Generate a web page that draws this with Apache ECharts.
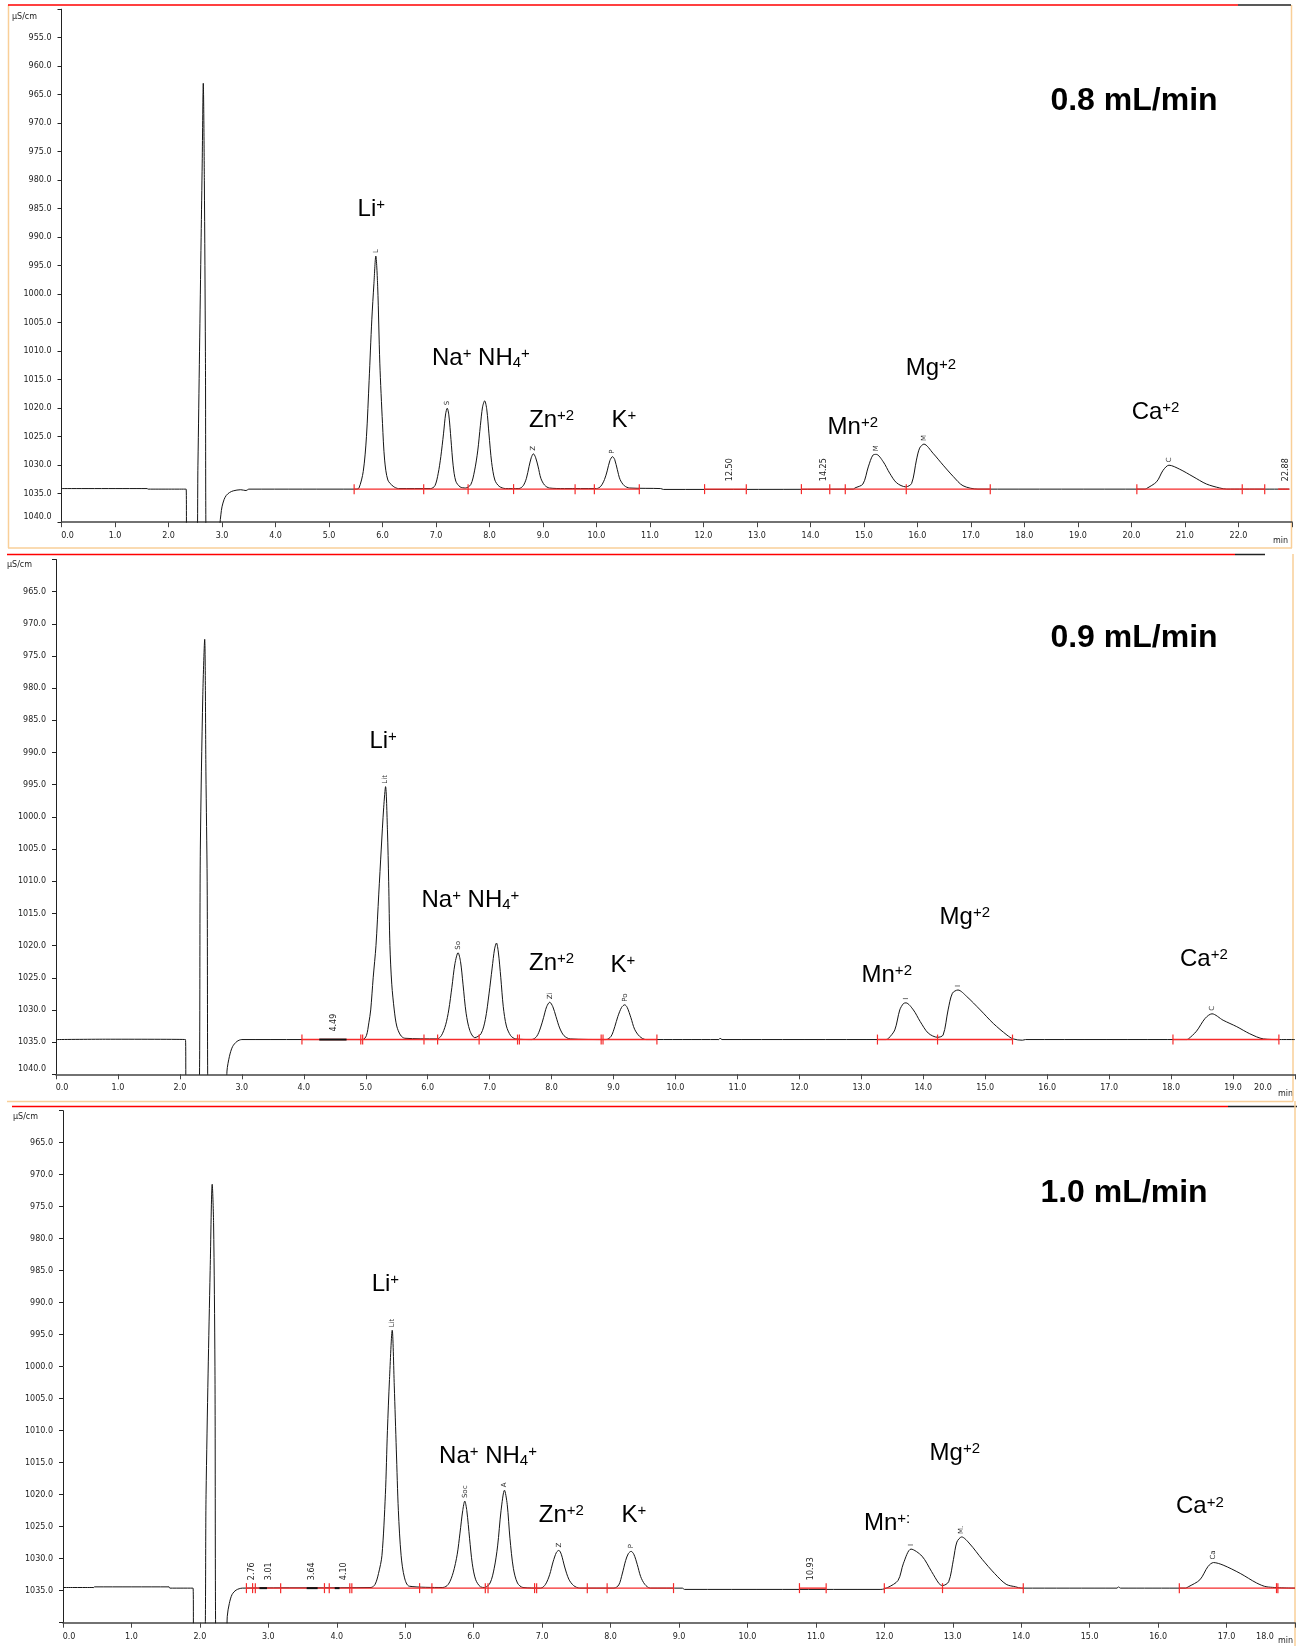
<!DOCTYPE html>
<html>
<head>
<meta charset="utf-8">
<title>Cation chromatograms at three flow rates</title>
<script src="https://cdn.jsdelivr.net/npm/echarts@6/dist/echarts.min.js"></script>
<style>
  html, body { margin: 0; padding: 0; background: #fff; }
  #chart { width: 1297px; height: 1646px; }
</style>
</head>
<body>
<div id="chart"></div>
<script>
// Conductivity traces: [retention time (min), signal (µS/cm)]
const trace08 = [
  [0.00,1034.1],[1.60,1034.1],[1.62,1034.2],[2.33,1034.2],[2.34,1046],[2.52,1046],[2.55,1030],[2.58,1010],
  [2.61,990],[2.63,977],[2.65,963],[2.67,980],[2.69,1010],[2.71,1046],[2.95,1046],[2.96,1040.5],[2.98,1038.6],
  [3.00,1037.3],[3.04,1036.0],[3.08,1035.3],[3.14,1034.8],[3.21,1034.5],[3.35,1034.3],[3.45,1034.45],[3.50,1034.2],
  [5.50,1034.2],[5.56,1034.0],[5.64,1031.1],[5.70,1025.0],[5.75,1015.1],[5.80,1004.5],[5.84,998.1],[5.875,993.3],
  [5.91,998.7],[5.95,1012.1],[6.00,1022.7],[6.04,1029.1],[6.10,1032.6],[6.20,1033.7],[6.30,1034.1],[6.90,1034.1],
  [6.98,1033.6],[7.04,1031.5],[7.09,1028.5],[7.14,1024.5],[7.18,1021.0],[7.21,1020.0],[7.24,1021.2],[7.28,1025.5],
  [7.32,1030.0],[7.37,1032.8],[7.45,1033.8],[7.55,1034.0],[7.65,1033.4],[7.72,1031.0],[7.78,1027.5],[7.83,1023.0],
  [7.87,1019.8],[7.91,1018.7],[7.95,1020.3],[7.99,1024.5],[8.04,1029.5],[8.10,1032.6],[8.18,1033.7],[8.30,1034.1],
  [8.55,1034.1],[8.63,1033.6],[8.69,1032.3],[8.74,1030.2],[8.78,1028.7],[8.82,1028.0],[8.86,1028.6],[8.91,1030.3],
  [8.96,1032.3],[9.03,1033.5],[9.12,1034.0],[9.40,1034.1],[10.00,1034.1],[10.08,1033.7],[10.15,1032.5],[10.20,1031.0],
  [10.25,1029.2],[10.30,1028.5],[10.34,1029.0],[10.39,1030.8],[10.44,1032.5],[10.52,1033.6],[10.62,1034.0],
  [11.20,1034.1],[11.25,1034.25],[14.80,1034.2],[14.83,1034.0],[14.98,1033.3],[15.08,1030.3],[15.17,1028.2],
  [15.23,1028.1],[15.36,1029.4],[15.48,1031.4],[15.61,1033.1],[15.78,1033.8],[15.89,1033.2],[15.98,1029.1],
  [16.04,1027.0],[16.12,1026.3],[16.29,1027.9],[16.48,1030.0],[16.67,1032.0],[16.85,1033.6],[17.13,1034.2],
  [20.25,1034.2],[20.28,1034.1],[20.47,1032.9],[20.59,1030.9],[20.70,1030.0],[20.90,1030.7],[21.15,1032.0],
  [21.40,1033.3],[21.65,1034.0],[21.78,1034.2],[22.95,1034.2]
];
const trace09 = [
  [0.00,1034.6],[0.80,1034.55],[2.09,1034.6],[2.10,1046],[2.30,1046],[2.33,1005],[2.37,981],[2.40,972.4],
  [2.42,993],[2.44,1010],[2.46,1046],[2.74,1046],[2.76,1039.5],[2.80,1037.2],[2.85,1035.7],[2.92,1034.9],
  [3.00,1034.6],[4.95,1034.6],[5.01,1034.0],[5.05,1032.0],[5.08,1030.0],[5.12,1025.0],[5.165,1020.0],[5.21,1012.0],
  [5.25,1005.0],[5.29,998.5],[5.32,995.3],[5.35,1002.0],[5.37,1010.0],[5.39,1020.0],[5.42,1026.0],[5.46,1030.0],
  [5.50,1032.5],[5.56,1033.9],[5.63,1034.4],[6.15,1034.5],[6.22,1034.0],[6.29,1032.3],[6.34,1030.0],[6.39,1026.5],
  [6.44,1022.8],[6.49,1021.1],[6.53,1022.5],[6.57,1026.0],[6.62,1030.5],[6.68,1033.2],[6.76,1034.3],[6.86,1033.7],
  [6.93,1031.5],[6.99,1027.5],[7.04,1023.5],[7.08,1020.5],[7.11,1019.6],[7.14,1021.0],[7.18,1025.0],[7.22,1029.5],
  [7.27,1032.5],[7.34,1034.0],[7.42,1034.5],[7.68,1034.6],[7.76,1034.1],[7.82,1032.8],[7.87,1031.2],[7.92,1029.5],
  [7.97,1028.8],[8.02,1029.5],[8.07,1031.0],[8.13,1032.8],[8.20,1034.0],[8.30,1034.5],[8.88,1034.6],[8.96,1034.1],
  [9.02,1032.6],[9.07,1031.0],[9.13,1029.6],[9.18,1029.2],[9.22,1029.6],[9.28,1031.2],[9.34,1033.0],[9.42,1034.1],
  [9.52,1034.6],[10.70,1034.6],[10.72,1034.4],[10.75,1034.6],[13.40,1034.6],[13.44,1034.4],[13.54,1033.1],
  [13.62,1030.0],[13.68,1029.0],[13.72,1028.9],[13.84,1030.0],[13.95,1031.8],[14.08,1033.6],[14.23,1034.25],
  [14.32,1033.9],[14.40,1030.0],[14.47,1027.4],[14.56,1026.9],[14.70,1027.9],[14.92,1030.0],[15.13,1032.1],
  [15.35,1033.9],[15.45,1034.5],[15.60,1034.7],[15.65,1034.6],[18.25,1034.6],[18.28,1034.5],[18.41,1033.3],
  [18.55,1031.3],[18.66,1030.6],[18.84,1031.6],[19.06,1032.6],[19.27,1033.7],[19.49,1034.5],[19.75,1034.6],
  [20.00,1034.6]
];
const trace10 = [
  [0.00,1034.5],[0.45,1034.5],[0.46,1034.4],[1.55,1034.4],[1.56,1034.6],[1.90,1034.6],[1.91,1046],[2.06,1046],
  [2.09,1020],[2.12,1001],[2.15,985],[2.18,971.5],[2.20,977.5],[2.22,1000],[2.24,1046],[2.38,1046],[2.40,1039],
  [2.43,1037],[2.47,1035.6],[2.53,1034.9],[2.62,1034.6],[4.50,1034.5],[4.56,1034.0],[4.61,1032.3],[4.66,1029.5],
  [4.71,1020.0],[4.74,1010.0],[4.77,1002.0],[4.81,994.3],[4.84,1003.0],[4.87,1013.0],[4.90,1022.5],[4.94,1029.5],
  [4.99,1033.0],[5.06,1034.3],[5.55,1034.5],[5.63,1034.0],[5.70,1032.2],[5.76,1029.3],[5.80,1026.0],[5.84,1022.5],
  [5.87,1021.0],[5.90,1022.5],[5.94,1026.8],[5.98,1030.8],[6.03,1033.3],[6.10,1034.4],[6.16,1034.5],[6.24,1033.8],
  [6.30,1031.5],[6.35,1028.0],[6.40,1022.5],[6.45,1019.3],[6.49,1021.5],[6.53,1026.8],[6.58,1031.5],[6.64,1033.8],
  [6.72,1034.5],[6.98,1034.6],[7.05,1034.0],[7.11,1032.5],[7.16,1030.5],[7.21,1029.0],[7.245,1028.7],[7.28,1029.3],
  [7.33,1031.3],[7.39,1033.2],[7.46,1034.2],[7.55,1034.6],[8.05,1034.6],[8.12,1034.1],[8.17,1032.4],[8.22,1030.3],
  [8.26,1029.2],[8.30,1028.85],[8.34,1029.3],[8.39,1030.9],[8.44,1032.8],[8.50,1034.0],[8.58,1034.6],[9.05,1034.6],
  [9.08,1034.8],[11.95,1034.8],[12.05,1034.5],[12.20,1033.4],[12.28,1030.7],[12.39,1028.5],[12.55,1029.6],
  [12.69,1032.0],[12.80,1033.9],[12.85,1034.2],[12.94,1033.6],[13.01,1030.1],[13.06,1027.4],[13.13,1026.6],
  [13.25,1027.7],[13.43,1030.1],[13.61,1032.3],[13.78,1034.0],[13.92,1034.4],[14.00,1034.6],[15.40,1034.6],
  [15.42,1034.4],[15.45,1034.6],[16.40,1034.6],[16.44,1034.4],[16.61,1033.3],[16.73,1031.2],[16.81,1030.6],
  [16.95,1031.0],[17.20,1032.3],[17.44,1033.8],[17.59,1034.4],[18.00,1034.6]
];

// Integration baselines (µS/cm)
const base08 = 1034.2;
const base09 = 1034.6;
const base10 = 1034.6;

// Integration event marks (min)
const events08 = [5.47,6.77,7.60,8.45,9.60,9.96,10.80,12.02,12.80,13.83,14.36,14.65,15.79,17.36,20.10,22.07,22.49];
const events09 = [3.97,4.92,4.95,5.94,6.16,6.83,7.45,7.48,8.80,8.83,9.70,13.26,14.23,15.44,18.03,19.74];
const events10 = [2.68,2.77,2.81,3.18,3.82,3.89,4.19,4.22,5.21,5.39,6.17,6.21,6.89,6.92,7.66,7.95,8.92,
                  10.76,11.15,12.00,12.85,14.03,16.31,17.73,17.75];

// Integrated baseline ranges [start, end] (min)
const segments08 = [[5.47,10.80],[12.02,12.80],[13.83,17.36],[20.10,22.49],[22.74,22.95]];
const segments09 = [[3.97,9.70],[13.26,15.44],[18.03,19.74]];
const segments10 = [[2.68,8.92],[10.76,11.15],[12.00,14.03],[16.31,18.00]];

// Small unidentified signals [start, end] (min)
const minor08 = [];
const minor09 = [[4.25,4.69]];
const minor10 = [[2.87,2.98],[3.56,3.72],[3.97,4.04]];

// Retention times printed for unidentified signals
const rtLabels08 = ['12.50','14.25','22.88'];
const rtLabels09 = ['4.49'];
const rtLabels10 = ['2.76','3.01','3.64','4.10','10.93'];

// Peak apex [time, signal, short name]
const tags08 = [[5.875,993.3,'L'],[7.21,1020.0,'S'],[8.82,1028.0,'Z'],[10.30,1028.5,'P'],[15.23,1028.1,'M'],[16.12,1026.3,'M'],[20.70,1030.0,'C']];
const tags09 = [[5.32,995.3,'Lit'],[6.49,1021.1,'So'],[7.97,1028.8,'Zi'],[9.18,1029.2,'Po'],[13.72,1028.9,'I'],[14.56,1026.9,'I'],[18.66,1030.6,'C']];
const tags10 = [[4.81,994.3,'Lit'],[5.87,1021.0,'Soc'],[6.45,1019.3,'A'],[7.245,1028.7,'Z'],[8.30,1028.85,'P'],[12.39,1028.5,'I'],[13.13,1026.6,'M.'],[16.81,1030.6,'Ca']];

// Ion annotations [time, signal, text] (^{..} superscript, _{..} subscript)
const ions08 = [[5.79,985.2,'Li^{+}'],[7.84,1011.2,'Na^{+} NH_{4}^{+}'],[9.16,1022.1,'Zn^{+2}'],[10.51,1022.1,'K^{+}'],
                [14.79,1023.3,'Mn^{+2}'],[16.25,1013.1,'Mg^{+2}'],[20.45,1020.7,'Ca^{+2}']];
const ions09 = [[5.28,988.2,'Li^{+}'],[6.69,1012.9,'Na^{+} NH_{4}^{+}'],[8.00,1022.7,'Zn^{+2}'],[9.15,1023.0,'K^{+}'],
                [13.41,1024.6,'Mn^{+2}'],[14.67,1015.6,'Mg^{+2}'],[18.53,1022.1,'Ca^{+2}']];
const ions10 = [[4.71,987.2,'Li^{+}'],[6.21,1014.0,'Na^{+} NH_{4}^{+}'],[7.28,1023.2,'Zn^{+2}'],[8.34,1023.2,'K^{+}'],
                [12.04,1024.5,'Mn^{+:}'],[13.03,1013.5,'Mg^{+2}'],[16.61,1021.9,'Ca^{+2}']];

const flowRates = ['0.8 mL/min', '0.9 mL/min', '1.0 mL/min'];

// ---------------- layout ----------------
const TICK_FONT = 'DejaVu Sans';
const LABEL_FONT = 'Liberation Sans';
const RED = '#f52a2a';
const ORANGE = '#f9cf98';

const panels = [
  { trace: trace08, base: base08, events: events08, segs: segments08, minor: minor08, rt: rtLabels08, tags: tags08, ions: ions08,
    grid: { left: 61.5, top: 9.2, width: 1230.5, height: 513 }, xMax: 23, yMin: 950, hideY: [950], shiftLast: 0, botLabel: true,
    unit: [12, 17], minLbl: [1273, 541], title: [1134, 101] },
  { trace: trace09, base: base09, events: events09, segs: segments09, minor: minor09, rt: rtLabels09, tags: tags09, ions: ions09,
    grid: { left: 56, top: 559.5, width: 1239, height: 514.8 }, xMax: 20, yMin: 960, hideY: [960], shiftLast: 64, botLabel: true,
    unit: [7, 565], minLbl: [1278, 1094], title: [1134, 638] },
  { trace: trace10, base: base10, events: events10, segs: segments10, minor: minor10, rt: rtLabels10, tags: tags10, ions: ions10,
    grid: { left: 63, top: 1110.7, width: 1232, height: 512 }, xMax: 18, yMin: 960, hideY: [960, 1040], shiftLast: 60, botLabel: false,
    unit: [13, 1117], minLbl: [1278, 1641], title: [1124, 1193] }
];

function toRich(s) {
  return s.replace(/\^\{([^}]*)\}/g, '{sup|$1}').replace(/_\{([^}]*)\}/g, '{sub|$1}');
}

const ionRich = {
  sup: { fontSize: 15, fontFamily: LABEL_FONT, fill: '#000', verticalAlign: 'top' },
  sub: { fontSize: 15, fontFamily: LABEL_FONT, fill: '#000', verticalAlign: 'bottom' }
};

const tickText = { fontSize: 8, fontFamily: TICK_FONT, color: '#222' };

const grids = [], xAxes = [], yAxes = [], series = [], graphics = [];

panels.forEach((p, i) => {
  grids.push(Object.assign({ containLabel: false, outerBoundsMode: 'none' }, p.grid));

  xAxes.push({
    gridIndex: i, type: 'value', min: 0, max: p.xMax, interval: 1,
    axisLine: { show: true, onZero: false, lineStyle: { color: '#444', width: 1.5 } },
    axisTick: { show: true, length: 5, lineStyle: { color: '#444', width: 1 } },
    splitLine: { show: false },
    axisLabel: {
      show: true, margin: 10, fontSize: 8, fontFamily: TICK_FONT, color: '#222', hideOverlap: false,
      formatter: v => {
        if (Math.abs(v - Math.round(v)) > 1e-6) return '';
        if (v === 0) return '{first|0.0}';
        if (v === p.xMax) return p.shiftLast ? '{last|' + v.toFixed(1) + '}' : '';
        return v.toFixed(1);
      },
      rich: {
        first: Object.assign({ padding: [0, 0, 0, 12] }, tickText),
        last: Object.assign({ padding: [0, p.shiftLast, 0, 0] }, tickText)
      }
    }
  });

  yAxes.push({
    gridIndex: i, type: 'value', inverse: true, min: p.yMin, max: 1040, interval: 5,
    axisLine: { show: true, onZero: false, lineStyle: { color: '#222', width: 1 } },
    axisTick: { show: true, length: 4, lineStyle: { color: '#222', width: 1 } },
    splitLine: { show: false },
    axisLabel: {
      show: true, margin: 10, fontSize: 8, fontFamily: TICK_FONT, color: '#222', hideOverlap: false,
      formatter: v => {
        if (p.hideY.indexOf(v) >= 0) return '';
        if (v === 1040 && p.botLabel) return '{bot|' + v.toFixed(1) + '}';
        return v.toFixed(1);
      },
      rich: { bot: Object.assign({ padding: [0, 0, 10, 0] }, tickText) }
    }
  });

  // conductivity trace
  series.push({
    type: 'line', xAxisIndex: i, yAxisIndex: i, data: p.trace, symbol: 'none', showSymbol: false,
    smooth: 0.3, clip: true, z: 2, silent: true,
    lineStyle: { color: '#151515', width: 1 }
  });

  // integrated baseline segments
  series.push({
    type: 'custom', xAxisIndex: i, yAxisIndex: i, z: 3, silent: true,
    data: p.segs.map(s => [s[0], s[1], p.base]),
    encode: { x: [0, 1], y: 2 },
    renderItem: (params, api) => {
      const a = api.coord([api.value(0), api.value(2)]);
      const b = api.coord([api.value(1), api.value(2)]);
      return { type: 'line', shape: { x1: a[0], y1: a[1], x2: b[0], y2: b[1] }, style: { stroke: RED, lineWidth: 1.4 } };
    }
  });

  // small unidentified signals
  series.push({
    type: 'custom', xAxisIndex: i, yAxisIndex: i, z: 4, silent: true,
    data: p.minor.map(s => [s[0], s[1], p.base]),
    encode: { x: [0, 1], y: 2 },
    renderItem: (params, api) => {
      const a = api.coord([api.value(0), api.value(2)]);
      const b = api.coord([api.value(1), api.value(2)]);
      return { type: 'line', shape: { x1: a[0], y1: a[1], x2: b[0], y2: b[1] }, style: { stroke: '#111', lineWidth: 2 } };
    }
  });

  // integration event marks
  series.push({
    type: 'custom', xAxisIndex: i, yAxisIndex: i, z: 4, silent: true,
    data: p.events.map(t => [t, p.base]),
    encode: { x: 0, y: 1 },
    renderItem: (params, api) => {
      const c = api.coord([api.value(0), api.value(1)]);
      return { type: 'line', shape: { x1: c[0], y1: c[1] - 5, x2: c[0], y2: c[1] + 5 }, style: { stroke: RED, lineWidth: 1.2 } };
    }
  });

  // printed retention times of unidentified signals
  series.push({
    type: 'custom', xAxisIndex: i, yAxisIndex: i, z: 5, silent: true,
    data: p.rt.map(s => [parseFloat(s), p.base]),
    encode: { x: 0, y: 1 },
    renderItem: (params, api) => {
      const c = api.coord([api.value(0), api.value(1)]);
      return { type: 'text', x: c[0], y: c[1] - 8, rotation: Math.PI / 2,
        style: { text: p.rt[params.dataIndex], fontSize: 8, fontFamily: TICK_FONT, fill: '#222', align: 'left', verticalAlign: 'middle' } };
    }
  });

  // short peak names above each apex
  series.push({
    type: 'custom', xAxisIndex: i, yAxisIndex: i, z: 5, silent: true,
    data: p.tags.map(t => [t[0], t[1]]),
    encode: { x: 0, y: 1 },
    renderItem: (params, api) => {
      const c = api.coord([api.value(0), api.value(1)]);
      return { type: 'text', x: c[0], y: c[1] - 3, rotation: Math.PI / 2,
        style: { text: p.tags[params.dataIndex][2], fontSize: 7, fontFamily: TICK_FONT, fill: '#333', align: 'left', verticalAlign: 'middle' } };
    }
  });

  // ion names
  series.push({
    type: 'custom', xAxisIndex: i, yAxisIndex: i, z: 6, silent: true,
    data: p.ions.map(t => [t[0], t[1]]),
    encode: { x: 0, y: 1 },
    renderItem: (params, api) => {
      const c = api.coord([api.value(0), api.value(1)]);
      return { type: 'text', x: c[0], y: c[1],
        style: { text: toRich(p.ions[params.dataIndex][2]), rich: ionRich, fontSize: 24, fontFamily: LABEL_FONT,
                 fill: '#000', align: 'center', verticalAlign: 'middle' } };
    }
  });

  // unit captions and flow-rate heading
  graphics.push({ type: 'text', x: p.unit[0], y: p.unit[1], silent: true,
    style: { text: 'µS/cm', fontSize: 8, fontFamily: TICK_FONT, fill: '#222', align: 'left', verticalAlign: 'middle' } });
  graphics.push({ type: 'text', x: p.minLbl[0], y: p.minLbl[1], silent: true,
    style: { text: 'min', fontSize: 8, fontFamily: TICK_FONT, fill: '#222', align: 'left', verticalAlign: 'middle' } });
  graphics.push({ type: 'text', x: p.title[0], y: p.title[1], silent: true,
    style: { text: flowRates[i], fontSize: 32, fontWeight: 'bold', fontFamily: LABEL_FONT, fill: '#000', align: 'center', verticalAlign: 'middle' } });
});

// window frames around the three plots
function hline(x1, x2, y, color, w) {
  return { type: 'line', silent: true, shape: { x1, y1: y, x2, y2: y }, style: { stroke: color, lineWidth: w } };
}
function vline(x, y1, y2, color, w) {
  return { type: 'line', silent: true, shape: { x1: x, y1, x2: x, y2 }, style: { stroke: color, lineWidth: w } };
}
graphics.push(
  vline(8.5, 5, 548, ORANGE, 1.5), vline(1291.5, 5, 548, ORANGE, 1.5), hline(8, 1292, 548, ORANGE, 1.5),
  hline(8, 1238, 5, '#ff0000', 1.5), hline(1238, 1291, 5, '#222', 1.5),
  hline(7, 1235, 554.5, '#ff0000', 1.5), hline(1235, 1265, 554.5, '#222', 1.5),
  vline(1293, 554, 1101.5, ORANGE, 1.5), hline(7, 1293, 1101.5, ORANGE, 1.5),
  hline(12, 1228, 1106.5, '#ff0000', 1.5), hline(1228, 1297, 1106.5, '#222', 1.5),
  vline(1295, 1101, 1646, ORANGE, 1.5)
);

const chart = echarts.init(document.getElementById('chart'), null, { renderer: 'canvas' });
chart.setOption({
  backgroundColor: '#ffffff',
  animation: false,
  textStyle: { fontFamily: TICK_FONT },
  grid: grids,
  xAxis: xAxes,
  yAxis: yAxes,
  series: series,
  graphic: graphics
});
</script>
</body>
</html>
